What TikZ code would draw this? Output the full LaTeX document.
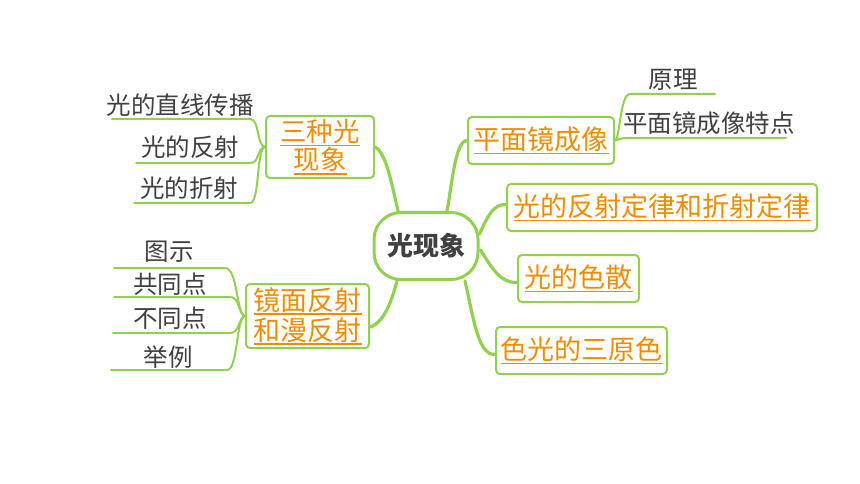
\documentclass[tikz,border=0pt]{standalone}
\usepackage{fontspec}
\setmainfont{Noto Sans CJK SC}
\usetikzlibrary{calc}
\definecolor{lg}{RGB}{146,208,80}
\definecolor{og}{RGB}{240,140,0}
\definecolor{tx}{RGB}{64,64,64}
\newcommand\ulx[1]{\setbox0\hbox{#1}\leavevmode\rlap{\vrule height -3.2pt depth 4.8pt width \wd0}\box0}
\begin{document}
\begin{tikzpicture}[x=1pt,y=-1pt,
  catbox/.style={draw=lg, line width=2pt, rounded corners=4pt, text=og, inner sep=0pt,
    font=\fontsize{27}{28}\selectfont, align=center},
  leaf/.style={text=tx, inner sep=0pt, font=\fontsize{24.5}{28}\selectfont},
  mainlink/.style={draw=lg, line width=3.2pt, line cap=round},
  leaflink/.style={draw=lg, line width=2pt, line cap=round}]
\useasboundingbox (0,0) rectangle (860,484);

% central node
\node[draw=lg, line width=3pt, rounded corners=27pt, minimum width=104pt, minimum height=67pt,
  text=tx, font=\fontsize{26}{28}\selectfont\bfseries, inner sep=0pt] (c) at (426,246) {光现象};

% category boxes
\node[catbox, minimum width=108pt, minimum height=62pt, font=\fontsize{26.5}{27}\selectfont] (sz) at (320,147)
  {\ulx{三种光}\\\ulx{现象}};
\node[catbox, minimum width=123pt, minimum height=64pt, font=\fontsize{27}{30}\selectfont] (jm) at (307.5,316)
  {\ulx{镜面反射}\\\ulx{和漫反射}};
\node[catbox, minimum width=146pt, minimum height=47pt] (pm) at (541,140.5) {\ulx{平面镜成像}};
\node[catbox, minimum width=310pt, minimum height=47pt] (fs) at (662,207.5) {\ulx{光的反射定律和折射定律}};
\node[catbox, minimum width=121pt, minimum height=47pt] (ss) at (578.5,278.5) {\ulx{光的色散}};
\node[catbox, minimum width=171pt, minimum height=47pt] (sy) at (581.5,350.5) {\ulx{色光的三原色}};

% main connectors
\draw[mainlink] ($(c.north)+(-28,0)$) .. controls (392,185) and (386,152) .. (sz.east);
\draw[mainlink] ($(c.south)+(-29,0)$) .. controls (393,296) and (385,323) .. ($(jm.east)+(0,11)$);
\draw[mainlink] ($(c.north)+(21,0)$) .. controls (452,185) and (455,141) .. (pm.west);
\draw[mainlink] ($(c.east)+(0,-12)$) .. controls (488,216) and (493,204) .. ($(fs.west)+(0,-3)$);
\draw[mainlink] ($(c.east)+(1,4)$) .. controls (492,268) and (500,283) .. ($(ss.west)+(0,4)$);
\draw[mainlink] ($(c.south)+(39,0)$) .. controls (474,320) and (478,355) .. ($(sy.west)+(0,4)$);

% leaves of 三种光现象
\node[leaf] (a1) at (180,105) {光的直线传播};
\node[leaf] (a2) at (190,147) {光的反射};
\node[leaf] (a3) at (189,188) {光的折射};
\coordinate (a1r) at (250,119); \coordinate (a1l) at (112,119);
\coordinate (a2r) at (250,163); \coordinate (a2l) at (136,163);
\coordinate (a3r) at (250,203); \coordinate (a3l) at (134,203);
\draw[leaflink] (sz.west) .. controls (256,145) and (260,119) .. (a1r) -- (a1l);
\draw[leaflink] (sz.west) .. controls (256,149) and (260,163) .. (a2r) -- (a2l);
\draw[leaflink] (sz.west) .. controls (256,149) and (260,203) .. (a3r) -- (a3l);

% leaves of 镜面反射和漫反射
\node[leaf] (b1) at (169,252) {图示};
\node[leaf] (b2) at (170,284) {共同点};
\node[leaf] (b3) at (170,318) {不同点};
\node[leaf] (b4) at (168,357) {举例};
\coordinate (b1r) at (225,268); \coordinate (b1l) at (114,268);
\coordinate (b2r) at (230,297); \coordinate (b2l) at (114,297);
\coordinate (b3r) at (230,333); \coordinate (b3l) at (113,333);
\coordinate (b4r) at (227,370); \coordinate (b4l) at (111,370);
\draw[leaflink] (jm.west) .. controls (236,314) and (238,268) .. (b1r) -- (b1l);
\draw[leaflink] (jm.west) .. controls (238,314) and (240,297) .. (b2r) -- (b2l);
\draw[leaflink] (jm.west) .. controls (238,318) and (240,333) .. (b3r) -- (b3l);
\draw[leaflink] (jm.west) .. controls (236,318) and (238,370) .. (b4r) -- (b4l);

% leaves of 平面镜成像
\node[leaf] (p1) at (673,80) {原理};
\node[leaf] (p2) at (709,123) {平面镜成像特点};
\coordinate (p1r) at (715,94); \coordinate (p1l) at (630,94);
\coordinate (p2r) at (786,138); \coordinate (p2l) at (626,138);
\draw[leaflink] (pm.east) .. controls (620,139) and (620,94) .. (p1l) -- (p1r);
\draw[leaflink] (pm.east) .. controls (619,140) and (621,138) .. (p2l) -- (p2r);
\end{tikzpicture}
\end{document}
